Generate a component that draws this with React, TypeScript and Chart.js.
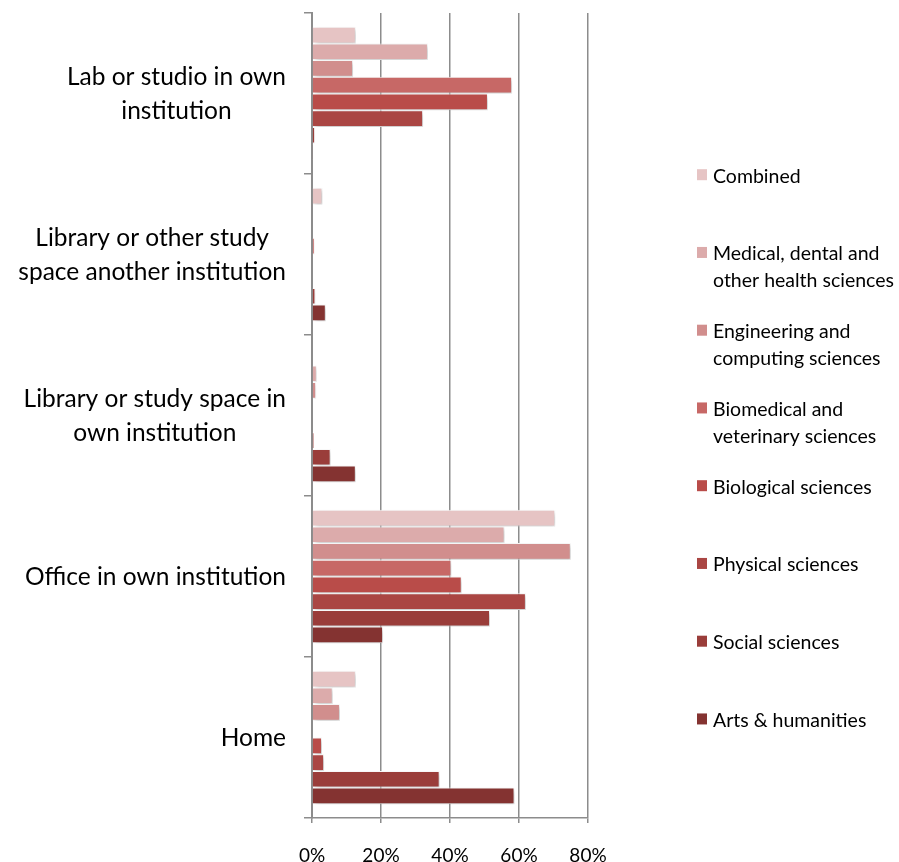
import { useEffect, useRef } from "react";
import { Chart, registerables } from "chart.js";

Chart.register(...registerables);

const FONT = 'Lato, "Open Sans", "DejaVu Sans", sans-serif';

const categories: string[][] = [
  ["Lab or studio in own", "institution"],
  ["Library or other study", "space another institution"],
  ["Library or study space in", "own institution"],
  ["Office in own institution"],
  ["Home"],
];

const seriesNames: string[][] = [
  ["Combined"],
  ["Medical, dental and", "other health sciences"],
  ["Engineering and", "computing sciences"],
  ["Biomedical and", "veterinary sciences"],
  ["Biological sciences"],
  ["Physical sciences"],
  ["Social sciences"],
  ["Arts & humanities"],
];

const combined = [12.7, 3.0, 0, 70.5, 12.7];
const medical = [33.6, 0, 1.4, 55.8, 6.0];
const engineering = [11.9, 0, 1.2, 75.0, 8.1];
const biomedical = [58.0, 0.8, 0, 40.4, 0];
const biological = [51.0, 0, 0.2, 43.4, 2.9];
const physical = [32.2, 0, 0.6, 62.0, 3.5];
const social = [0.9, 1.0, 5.4, 51.6, 37.0];
const arts = [0.3, 4.0, 12.7, 20.6, 58.7];

const seriesValues = [combined, medical, engineering, biomedical, biological, physical, social, arts];

const colors = ["#e6c4c4", "#dcabab", "#d18e8d", "#c76866", "#b94c49", "#aa4643", "#9a3d3a", "#843331"];

const xTickValues = [0, 20, 40, 60, 80];

export default function App() {
  const ref = useRef<HTMLCanvasElement | null>(null);

  useEffect(() => {
    const canvas = ref.current;
    if (!canvas) return;

    const shadowPlugin = {
      id: "barShadow",
      beforeDatasetsDraw(chart: any) {
        const c = chart.ctx;
        c.save();
        c.shadowColor = "rgba(0,0,0,0.25)";
        c.shadowBlur = 5;
        c.shadowOffsetX = 2;
        c.shadowOffsetY = 2;
      },
      afterDatasetsDraw(chart: any) {
        chart.ctx.restore();
      },
    };

    const labelPlugin = {
      id: "catLabels",
      afterDraw(chart: any) {
        const c = chart.ctx;
        const ys = chart.scales.y;
        c.save();
        c.font = `24.5px ${FONT}`;
        c.fillStyle = "#000";
        c.textAlign = "center";
        c.textBaseline = "alphabetic";
        categories.forEach((lines, i) => {
          const cy = ys.getPixelForValue(i);
          const w = Math.max(...lines.map((l) => c.measureText(l).width));
          const cx = ys.right - 26 - w / 2;
          lines.forEach((line, j) => {
            c.fillText(line, cx, cy + (j - (lines.length - 1) / 2) * 34 + 8);
          });
        });
        c.restore();
      },
    };

    const legendPlugin = {
      id: "sideLegend",
      afterDraw(chart: any) {
        const c = chart.ctx;
        const left = chart.chartArea.right + 109;
        c.save();
        c.font = `19.5px ${FONT}`;
        c.textAlign = "left";
        c.textBaseline = "alphabetic";
        seriesNames.forEach((lines, i) => {
          const base = 182.7 + i * 77.75;
          c.fillStyle = colors[i];
          c.fillRect(left, base - 13.5, 10, 11);
          c.fillStyle = "#000";
          lines.forEach((l, j) => c.fillText(l, left + 16, base + j * 26.7));
        });
        c.restore();
      },
    };

    const chart = new Chart(canvas, {
      type: "bar",
      data: {
        labels: categories.map((l) => l.join(" ")),
        datasets: seriesValues.map((vals, i) => ({
          label: seriesNames[i].join(" "),
          data: vals,
          backgroundColor: colors[i],
          borderColor: "#ffffff",
          borderWidth: 1,
          borderSkipped: "start" as const,
          categoryPercentage: 0.83,
          barPercentage: 1.0,
        })),
      },
      options: {
        indexAxis: "y",
        responsive: false,
        animation: false,
        devicePixelRatio: 1,
        layout: { padding: { top: 13, right: 311, left: 0, bottom: 0 } },
        plugins: {
          legend: { display: false },
          tooltip: { enabled: false },
        },
        scales: {
          x: {
            min: 0,
            max: 80,
            afterBuildTicks(scale: any) {
              scale.ticks = xTickValues.map((v) => ({ value: v }));
            },
            afterFit(scale: any) {
              scale.height = 44;
            },
            grid: {
              color: "#8c8c8c",
              lineWidth: 1.5,
              tickLength: 5,
              drawTicks: true,
            },
            border: { display: true, color: "#8c8c8c", width: 1.5 },
            ticks: {
              callback: (v: any) => `${v}%`,
              font: { family: FONT, size: 19 },
              color: "#000",
              padding: 21,
              maxRotation: 0,
            },
          },
          y: {
            z: 1,
            afterFit(scale: any) {
              scale.width = 312;
            },
            grid: {
              display: true,
              drawOnChartArea: false,
              color: "#8c8c8c",
              lineWidth: 1.5,
              tickLength: 8,
              offset: true,
            },
            border: { display: true, color: "#8c8c8c", width: 2 },
            ticks: { display: false },
          },
        },
      },
      plugins: [shadowPlugin, labelPlugin, legendPlugin],
    });

    return () => chart.destroy();
  }, []);

  return (
    <div style={{ position: "fixed", left: 0, top: 0, width: 899, height: 862, background: "#fff" }}>
      <canvas ref={ref} width={899} height={862} style={{ display: "block", width: 899, height: 862 }} />
    </div>
  );
}
